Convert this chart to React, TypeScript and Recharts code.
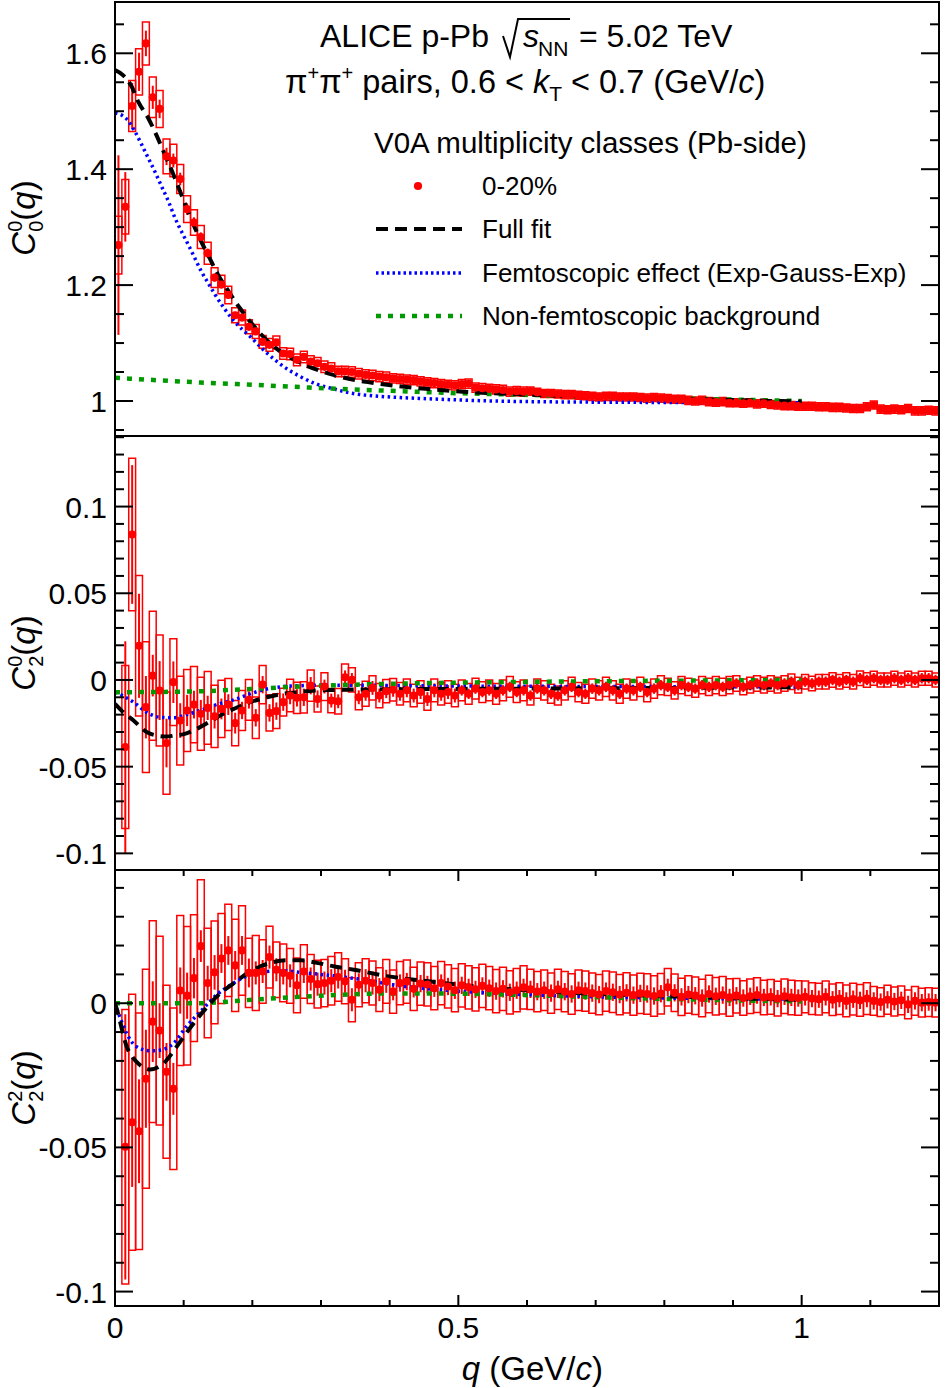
import React from 'react';
import { ComposedChart, ErrorBar, Line, ReferenceArea, Scatter, XAxis, YAxis } from 'recharts';

const FONT = '"Liberation Sans", Arial, Helvetica, sans-serif';
const RED = '#ff0000';
const BLUE = '#0000ff';
const GREEN = '#009a00';

const PLOT_LEFT = 115;
const PLOT_W = 824;
const RIGHT_GAP = 11;
const HALF_BIN = 0.005;

// bin centres, q in GeV/c
const Q_BINS = [
  0.005, 0.015, 0.025, 0.035, 0.045, 0.055, 0.065, 0.075, 0.085, 0.095,
  0.105, 0.115, 0.125, 0.135, 0.145, 0.155, 0.165, 0.175, 0.185, 0.195,
  0.205, 0.215, 0.225, 0.235, 0.245, 0.255, 0.265, 0.275, 0.285, 0.295,
  0.305, 0.315, 0.325, 0.335, 0.345, 0.355, 0.365, 0.375, 0.385, 0.395,
  0.405, 0.415, 0.425, 0.435, 0.445, 0.455, 0.465, 0.475, 0.485, 0.495,
  0.505, 0.515, 0.525, 0.535, 0.545, 0.555, 0.565, 0.575, 0.585, 0.595,
  0.605, 0.615, 0.625, 0.635, 0.645, 0.655, 0.665, 0.675, 0.685, 0.695,
  0.705, 0.715, 0.725, 0.735, 0.745, 0.755, 0.765, 0.775, 0.785, 0.795,
  0.805, 0.815, 0.825, 0.835, 0.845, 0.855, 0.865, 0.875, 0.885, 0.895,
  0.905, 0.915, 0.925, 0.935, 0.945, 0.955, 0.965, 0.975, 0.985, 0.995,
  1.005, 1.015, 1.025, 1.035, 1.045, 1.055, 1.065, 1.075, 1.085, 1.095,
  1.105, 1.115, 1.125, 1.135, 1.145, 1.155, 1.165, 1.175, 1.185, 1.195,
];

// C^0_0(q)
const C00_VAL = [
  1.269, 1.335, 1.509, 1.568, 1.617, 1.524, 1.504, 1.422, 1.415, 1.383,
  1.331, 1.308, 1.283, 1.255, 1.213, 1.201, 1.183, 1.148, 1.144, 1.128,
  1.120, 1.102, 1.097, 1.101, 1.082, 1.081, 1.071, 1.076, 1.068, 1.065,
  1.059, 1.056, 1.051, 1.051, 1.050, 1.047, 1.045, 1.044, 1.042, 1.041,
  1.039, 1.038, 1.037, 1.036, 1.034, 1.032, 1.031, 1.029, 1.028, 1.027,
  1.029, 1.030, 1.023, 1.022, 1.021, 1.020, 1.019, 1.016, 1.017, 1.016,
  1.017, 1.015, 1.013, 1.013, 1.012, 1.011, 1.011, 1.010, 1.009, 1.008,
  1.007, 1.008, 1.008, 1.007, 1.007, 1.007, 1.006, 1.005, 1.006, 1.005,
  1.004, 1.003, 1.003, 1.001, 1.000, 1.001, 0.999, 0.998, 0.999, 0.997,
  0.997, 0.996, 0.997, 0.995, 0.996, 0.994, 0.993, 0.992, 0.992, 0.991,
  0.991, 0.991, 0.990, 0.990, 0.989, 0.989, 0.988, 0.987, 0.987, 0.990,
  0.993, 0.986, 0.985, 0.986, 0.985, 0.987, 0.983, 0.983, 0.984, 0.983,
];
const C00_STAT = [
  0.155, 0.06, 0.04, 0.033, 0.022, 0.02, 0.016, 0.015, 0.012, 0.011,
  0.01, 0.009, 0.008, 0.008, 0.007, 0.007, 0.006, 0.006, 0.005, 0.005,
  0.004, 0.004, 0.004, 0.004, 0.004, 0.004, 0.004, 0.004, 0.004, 0.004,
  0.004, 0.004, 0.004, 0.004, 0.004, 0.004, 0.004, 0.004, 0.004, 0.004,
  0.004, 0.004, 0.004, 0.004, 0.004, 0.004, 0.004, 0.004, 0.004, 0.004,
  0.004, 0.004, 0.004, 0.004, 0.004, 0.004, 0.004, 0.004, 0.004, 0.004,
  0.003, 0.003, 0.003, 0.003, 0.003, 0.003, 0.003, 0.003, 0.003, 0.003,
  0.003, 0.003, 0.003, 0.003, 0.003, 0.003, 0.003, 0.003, 0.003, 0.003,
  0.003, 0.003, 0.003, 0.003, 0.003, 0.003, 0.003, 0.003, 0.003, 0.003,
  0.003, 0.003, 0.003, 0.003, 0.003, 0.003, 0.003, 0.003, 0.003, 0.003,
  0.003, 0.003, 0.003, 0.003, 0.003, 0.003, 0.003, 0.003, 0.003, 0.003,
  0.003, 0.003, 0.003, 0.003, 0.003, 0.003, 0.003, 0.003, 0.003, 0.003,
];
const C00_SYS = [
  0.05, 0.047, 0.044, 0.04, 0.037, 0.035, 0.032, 0.03, 0.028, 0.025,
  0.023, 0.022, 0.02, 0.019, 0.017, 0.016, 0.015, 0.013, 0.013, 0.012,
  0.012, 0.011, 0.011, 0.011, 0.01, 0.01, 0.01, 0.01, 0.01, 0.01,
  0.01, 0.01, 0.009, 0.009, 0.009, 0.009, 0.009, 0.009, 0.009, 0.009,
  0.008, 0.008, 0.008, 0.008, 0.008, 0.008, 0.008, 0.008, 0.008, 0.008,
  0.008, 0.008, 0.008, 0.008, 0.008, 0.008, 0.008, 0.008, 0.008, 0.008,
  0.007, 0.007, 0.007, 0.007, 0.007, 0.007, 0.007, 0.007, 0.007, 0.007,
  0.007, 0.007, 0.007, 0.007, 0.007, 0.007, 0.007, 0.007, 0.007, 0.007,
  0.007, 0.007, 0.007, 0.007, 0.007, 0.007, 0.007, 0.007, 0.007, 0.007,
  0.007, 0.007, 0.007, 0.007, 0.007, 0.007, 0.007, 0.007, 0.007, 0.007,
  0.007, 0.007, 0.007, 0.007, 0.007, 0.007, 0.007, 0.007, 0.007, 0.007,
  0.007, 0.007, 0.007, 0.007, 0.007, 0.007, 0.007, 0.007, 0.007, 0.007,
];

// C^0_2(q)
const C02_VAL = [
  null, -0.0387, 0.0839, 0.0197, -0.0157, 0.0025, -0.0061, -0.0364, -0.0013, -0.0234,
  -0.0176, -0.0142, -0.0195, -0.0161, -0.021, -0.0167, -0.0142, -0.0249, -0.0176, -0.0115,
  -0.0218, -0.0027, -0.019, -0.018, -0.0128, -0.009, -0.0103, -0.01, -0.0033, -0.011,
  -0.0038, -0.0119, -0.0123, 0.0015, 0.0, -0.01, -0.008, -0.0046, -0.009, -0.0065,
  -0.0057, -0.008, -0.006, -0.009, -0.007, -0.011, -0.006, -0.008, -0.007, -0.009,
  -0.006, -0.008, -0.005, -0.007, -0.006, -0.008, -0.006, -0.004, -0.007, -0.006,
  -0.009, -0.005, -0.006, -0.008, -0.009, -0.006, -0.004, -0.007, -0.008, -0.005,
  -0.006, -0.004, -0.006, -0.008, -0.005, -0.006, -0.004, -0.007, -0.005, -0.003,
  -0.004, -0.006, -0.003, -0.004, -0.005, -0.003, -0.004, -0.003, -0.004, -0.003,
  -0.002, -0.004, -0.003, -0.002, -0.003, -0.002, -0.003, -0.002, -0.001, -0.003,
  -0.001, -0.002, -0.001, -0.001, 0.0, -0.001, 0.0, -0.001, 0.001, 0.0,
  0.001, 0.0, 0.0, 0.001, 0.0, 0.001, 0.0, 0.001, 0.001, 0.0,
];
const C02_STAT = [
  null, 0.061, 0.04, 0.03, 0.018, 0.012, 0.017, 0.014, 0.012, 0.01,
  0.009, 0.008, 0.008, 0.007, 0.007, 0.006, 0.006, 0.006, 0.005, 0.005,
  0.005, 0.005, 0.005, 0.005, 0.005, 0.005, 0.005, 0.005, 0.005, 0.005,
  0.004, 0.004, 0.004, 0.004, 0.004, 0.004, 0.004, 0.004, 0.004, 0.004,
  0.004, 0.004, 0.004, 0.004, 0.004, 0.004, 0.004, 0.004, 0.004, 0.004,
  0.003, 0.003, 0.003, 0.003, 0.003, 0.003, 0.003, 0.003, 0.003, 0.003,
  0.003, 0.003, 0.003, 0.003, 0.003, 0.003, 0.003, 0.003, 0.003, 0.003,
  0.003, 0.003, 0.003, 0.003, 0.003, 0.003, 0.003, 0.003, 0.003, 0.003,
  0.003, 0.003, 0.003, 0.003, 0.003, 0.003, 0.003, 0.003, 0.003, 0.003,
  0.003, 0.003, 0.003, 0.003, 0.003, 0.003, 0.003, 0.003, 0.003, 0.003,
  0.003, 0.003, 0.003, 0.003, 0.003, 0.003, 0.003, 0.003, 0.003, 0.003,
  0.003, 0.003, 0.003, 0.003, 0.003, 0.003, 0.003, 0.003, 0.003, 0.003,
];
const C02_SYS = [
  null, 0.047, 0.044, 0.0405, 0.0377, 0.0372, 0.032, 0.0295, 0.025, 0.0256,
  0.0237, 0.022, 0.021, 0.021, 0.018, 0.0165, 0.015, 0.013, 0.0115, 0.0117,
  0.012, 0.011, 0.0104, 0.01, 0.008, 0.0094, 0.009, 0.009, 0.009, 0.0075,
  0.008, 0.007, 0.0074, 0.0077, 0.007, 0.0072, 0.0072, 0.007, 0.007, 0.0067,
  0.0065, 0.0065, 0.0065, 0.0065, 0.0065, 0.0065, 0.0065, 0.0065, 0.0065, 0.0065,
  0.006, 0.006, 0.006, 0.006, 0.006, 0.006, 0.006, 0.006, 0.006, 0.006,
  0.0055, 0.0055, 0.0055, 0.0055, 0.0055, 0.0055, 0.0055, 0.0055, 0.0055, 0.0055,
  0.0055, 0.0055, 0.0055, 0.0055, 0.0055, 0.0055, 0.0055, 0.0055, 0.0055, 0.0055,
  0.005, 0.005, 0.005, 0.005, 0.005, 0.005, 0.005, 0.005, 0.005, 0.005,
  0.0045, 0.0045, 0.0045, 0.0045, 0.0045, 0.0045, 0.0045, 0.0045, 0.0045, 0.0045,
  0.0042, 0.0042, 0.0042, 0.0042, 0.0042, 0.0042, 0.0042, 0.0042, 0.0042, 0.0042,
  0.004, 0.004, 0.004, 0.004, 0.004, 0.004, 0.004, 0.004, 0.004, 0.004,
];

// C^2_2(q)
const C22_VAL = [
  null, -0.0498, -0.0413, -0.0444, -0.0262, -0.0064, -0.0095, -0.0238, -0.0297, 0.0044,
  0.0026, 0.0087, 0.0198, 0.007, 0.0107, 0.0155, 0.0183, 0.0131, 0.0183, 0.0105,
  0.0105, 0.011, 0.016, 0.0116, 0.0105, 0.0095, 0.0062, 0.011, 0.0084, 0.0066,
  0.007, 0.0078, 0.0091, 0.0076, 0.0012, 0.0064, 0.0078, 0.007, 0.0047, 0.0076,
  0.004, 0.007, 0.0075, 0.005, 0.0068, 0.0065, 0.0052, 0.007, 0.0058, 0.0045,
  0.0062, 0.0055, 0.0048, 0.006, 0.0052, 0.0042, 0.005, 0.0038, 0.0045, 0.0055,
  0.0048, 0.004, 0.0045, 0.0035, 0.0048, 0.004, 0.0032, 0.0045, 0.0042, 0.0035,
  0.003, 0.0042, 0.0038, 0.003, 0.0036, 0.0028, 0.0034, 0.0032, 0.0025, 0.0033,
  0.0055, 0.0036, 0.0022, 0.003, 0.0026, 0.0018, 0.0032, 0.0024, 0.0028, 0.002,
  0.0026, 0.0018, 0.0024, 0.0028, 0.002, 0.0022, 0.0016, 0.0024, 0.002, 0.0018,
  0.0022, 0.0016, 0.0014, 0.0022, 0.0012, 0.0016, 0.0008, 0.0014, 0.001, 0.0016,
  0.0008, 0.0004, 0.0012, 0.0006, 0.001, -0.0004, 0.0008, 0.0002, 0.0004, 0.0002,
];
const C22_STAT = [
  null, 0.046, 0.0224, 0.018, 0.017, 0.014, 0.0095, 0.01, 0.009, 0.008,
  0.008, 0.007, 0.0055, 0.006, 0.006, 0.005, 0.005, 0.005, 0.005, 0.005,
  0.004, 0.004, 0.004, 0.004, 0.004, 0.004, 0.004, 0.004, 0.004, 0.004,
  0.004, 0.004, 0.004, 0.004, 0.004, 0.004, 0.004, 0.004, 0.004, 0.004,
  0.003, 0.003, 0.003, 0.003, 0.003, 0.003, 0.003, 0.003, 0.003, 0.003,
  0.003, 0.003, 0.003, 0.003, 0.003, 0.003, 0.003, 0.003, 0.003, 0.003,
  0.003, 0.003, 0.003, 0.003, 0.003, 0.003, 0.003, 0.003, 0.003, 0.003,
  0.003, 0.003, 0.003, 0.003, 0.003, 0.003, 0.003, 0.003, 0.003, 0.003,
  0.003, 0.003, 0.003, 0.003, 0.003, 0.003, 0.003, 0.003, 0.003, 0.003,
  0.003, 0.003, 0.003, 0.003, 0.003, 0.003, 0.003, 0.003, 0.003, 0.003,
  0.003, 0.003, 0.003, 0.003, 0.003, 0.003, 0.003, 0.003, 0.003, 0.003,
  0.003, 0.003, 0.003, 0.003, 0.003, 0.003, 0.003, 0.003, 0.003, 0.003,
];
const C22_SYS = [
  null, 0.0476, 0.0444, 0.041, 0.038, 0.035, 0.0327, 0.03, 0.028, 0.026,
  0.024, 0.022, 0.023, 0.019, 0.0178, 0.0156, 0.016, 0.016, 0.0155, 0.012,
  0.013, 0.011, 0.0107, 0.0096, 0.01, 0.0095, 0.0095, 0.0093, 0.0085, 0.0083,
  0.0082, 0.0084, 0.0084, 0.0078, 0.0076, 0.0076, 0.0076, 0.0076, 0.0076, 0.0076,
  0.0075, 0.0075, 0.0075, 0.0075, 0.0075, 0.0075, 0.0075, 0.0075, 0.0075, 0.0075,
  0.0075, 0.0075, 0.0075, 0.0075, 0.0075, 0.0075, 0.0075, 0.0075, 0.0075, 0.0075,
  0.007, 0.007, 0.007, 0.007, 0.007, 0.007, 0.007, 0.007, 0.007, 0.007,
  0.007, 0.007, 0.007, 0.007, 0.007, 0.007, 0.007, 0.007, 0.007, 0.007,
  0.0065, 0.0065, 0.0065, 0.0065, 0.0065, 0.0065, 0.0065, 0.0065, 0.0065, 0.0065,
  0.006, 0.006, 0.006, 0.006, 0.006, 0.006, 0.006, 0.006, 0.006, 0.006,
  0.0055, 0.0055, 0.0055, 0.0055, 0.0055, 0.0055, 0.0055, 0.0055, 0.0055, 0.0055,
  0.005, 0.005, 0.005, 0.005, 0.005, 0.005, 0.005, 0.005, 0.005, 0.005,
];

// fit curves, [q, value]
const C00_FULL_FIT = [
  [0, 1.571], [0.012, 1.562], [0.024, 1.543], [0.034, 1.516], [0.0485, 1.488], [0.061, 1.457],
  [0.073, 1.424], [0.085, 1.391], [0.095, 1.361], [0.104, 1.334], [0.114, 1.305], [0.124, 1.279],
  [0.138, 1.246], [0.15, 1.218], [0.165, 1.19], [0.182, 1.16], [0.201, 1.131], [0.221, 1.105],
  [0.245, 1.082], [0.27, 1.066], [0.294, 1.054], [0.318, 1.045], [0.342, 1.038], [0.366, 1.033],
  [0.396, 1.028], [0.425, 1.024], [0.463, 1.02], [0.507, 1.016], [0.56, 1.013], [0.65, 1.009],
  [0.75, 1.006], [0.85, 1.003], [1.0, 0.999],
];
const C00_FEMTO_FIT = [
  [0, 1.497], [0.01, 1.493], [0.019, 1.484], [0.029, 1.465], [0.039, 1.442], [0.0485, 1.419],
  [0.058, 1.396], [0.068, 1.37], [0.078, 1.344], [0.087, 1.317], [0.097, 1.292], [0.107, 1.269],
  [0.1165, 1.246], [0.126, 1.223], [0.136, 1.203], [0.146, 1.183], [0.159, 1.16], [0.172, 1.14],
  [0.185, 1.124], [0.197, 1.111], [0.221, 1.083], [0.245, 1.06], [0.27, 1.042], [0.294, 1.029],
  [0.318, 1.021], [0.342, 1.014], [0.366, 1.01], [0.415, 1.006], [0.463, 1.0035], [0.55, 1.0],
  [0.7, 0.998], [1.0, 0.997],
];
const C00_BKG_FIT = [
  [0, 1.04], [0.124, 1.032], [0.2, 1.028], [0.27, 1.024], [0.342, 1.02], [0.415, 1.017],
  [0.483, 1.014], [0.55, 1.012], [0.65, 1.009], [0.75, 1.006], [0.875, 1.003], [1.0, 1.0],
];
const C02_FULL_FIT = [
  [0, -0.0138], [0.013, -0.019], [0.027, -0.0234], [0.046, -0.03], [0.06, -0.032], [0.075, -0.0326],
  [0.087, -0.032], [0.099, -0.0314], [0.112, -0.0295], [0.124, -0.0272], [0.136, -0.0245],
  [0.148, -0.0218], [0.16, -0.019], [0.173, -0.0167], [0.185, -0.0146], [0.197, -0.0128],
  [0.221, -0.01], [0.245, -0.008], [0.27, -0.0068], [0.31, -0.0058], [0.4, -0.0054],
  [0.6, -0.005], [0.8, -0.0046], [1.0, -0.0042],
];
const C02_FEMTO_FIT = [
  [0, -0.0071], [0.013, -0.0095], [0.027, -0.0128], [0.046, -0.0186], [0.065, -0.0215],
  [0.085, -0.0218], [0.104, -0.02], [0.124, -0.0176], [0.148, -0.0142], [0.173, -0.0115],
  [0.197, -0.008], [0.221, -0.0052], [0.245, -0.0038], [0.27, -0.0033], [0.32, -0.003],
  [0.5, -0.0035], [0.75, -0.0038], [1.0, -0.004],
];
const C02_BKG_FIT = [
  [0, -0.0071], [0.124, -0.0065], [0.197, -0.0052], [0.27, -0.0038], [0.4, -0.0022],
  [0.55, -0.0013], [0.75, -0.0006], [1.0, 0],
];
const C22_FULL_FIT = [
  [0, 0], [0.005, -0.004], [0.01, -0.009], [0.017, -0.015], [0.025, -0.0185], [0.035, -0.0212],
  [0.051, -0.023], [0.07, -0.021], [0.09, -0.015], [0.109, -0.0087], [0.128, -0.003],
  [0.148, 0.0023], [0.173, 0.007], [0.197, 0.011], [0.221, 0.0136], [0.25, 0.0149],
  [0.27, 0.0149], [0.294, 0.014], [0.318, 0.0128], [0.348, 0.0116], [0.396, 0.0094],
  [0.46, 0.0075], [0.556, 0.0052], [0.66, 0.0037], [0.817, 0.0023], [1.0, 0.0012],
];
const C22_FEMTO_FIT = [
  [0, 0], [0.007, -0.0047], [0.017, -0.0105], [0.031, -0.015], [0.051, -0.0165], [0.065, -0.0163],
  [0.085, -0.014], [0.104, -0.0081], [0.124, -0.003], [0.148, 0.0029], [0.173, 0.007],
  [0.197, 0.0099], [0.221, 0.011], [0.245, 0.0113], [0.27, 0.0107], [0.318, 0.0095],
  [0.366, 0.008], [0.41, 0.0062], [0.5, 0.0042], [0.66, 0.0025], [0.8, 0.0018], [1.0, 0.0014],
];
const C22_BKG_FIT = [
  [0, 0], [0.12, 0], [0.2, 0.0012], [0.3, 0.0026], [0.4, 0.0034], [0.5, 0.0033],
  [0.6, 0.0028], [0.76, 0.0017], [0.9, 0.001], [1.0, 0.0006],
];

// axis ticks
const X_TICKS = [0, 0.1, 0.2, 0.3, 0.4, 0.5, 0.6, 0.7, 0.8, 0.9, 1, 1.1, 1.2];
const X_MAJOR = [0, 0.5, 1];
const X_LABELS = ['0', '0.5', '1'];

const P1_Y_TICKS = [0.95, 1, 1.05, 1.1, 1.15, 1.2, 1.25, 1.3, 1.35, 1.4, 1.45, 1.5, 1.55, 1.6, 1.65];
const P1_Y_MAJOR = [1, 1.2, 1.4, 1.6];
const P1_Y_LABELS = ['1', '1.2', '1.4', '1.6'];

const P2_Y_TICKS = [
  -0.1, -0.09, -0.08, -0.07, -0.06, -0.05, -0.04, -0.03, -0.02, -0.01, 0,
  0.01, 0.02, 0.03, 0.04, 0.05, 0.06, 0.07, 0.08, 0.09, 0.1, 0.11, 0.12, 0.13, 0.14,
];
const P2_Y_MAJOR = [-0.1, -0.05, 0, 0.05, 0.1];
const P2_Y_LABELS = ['-0.1', '-0.05', '0', '0.05', '0.1'];

const P3_Y_TICKS = [-0.1, -0.09, -0.08, -0.07, -0.06, -0.05, -0.04, -0.03, -0.02, -0.01, 0, 0.01, 0.02, 0.03, 0.04];
const P3_Y_MAJOR = [-0.1, -0.05, 0];
const P3_Y_LABELS = ['-0.1', '-0.05', '0'];

type Row = { q: number; v: number; stat: number; lo: number; hi: number };

function buildRows(vals: (number | null)[], stat: (number | null)[], sys: (number | null)[]): Row[] {
  const rows: Row[] = [];
  Q_BINS.forEach((q, i) => {
    const v = vals[i];
    if (v == null) return;
    const s = sys[i] ?? 0;
    rows.push({ q, v, stat: stat[i] ?? 0, lo: v - s, hi: v + s });
  });
  return rows;
}

const toFit = (pts: number[][]) => pts.map(([q, v]) => ({ q, v }));

const majorIndex = (majors: number[], v: number) => majors.findIndex((m) => Math.abs(m - v) < 1e-7);

function XTick(props: any) {
  const { x = 0, y = 0, payload, plotH, showLabels } = props;
  const idx = majorIndex(X_MAJOR, payload?.value);
  const len = idx >= 0 ? 11 : 6;
  return (
    <g>
      <line x1={x} x2={x} y1={y} y2={y - len} stroke="#000" strokeWidth={2} />
      <line x1={x} x2={x} y1={y - plotH} y2={y - plotH + len} stroke="#000" strokeWidth={2} />
      {showLabels && idx >= 0 && (
        <text x={x} y={y + 32} textAnchor="middle" fontSize={30} fontFamily={FONT} fill="#000">
          {X_LABELS[idx]}
        </text>
      )}
    </g>
  );
}

function YTick(props: any) {
  const { x = 0, y = 0, payload, majors, labels } = props;
  const idx = majorIndex(majors, payload?.value);
  const len = idx >= 0 ? 18 : 9;
  return (
    <g>
      <line x1={x} x2={x + len} y1={y} y2={y} stroke="#000" strokeWidth={2} />
      <line x1={x + PLOT_W} x2={x + PLOT_W - len} y1={y} y2={y} stroke="#000" strokeWidth={2} />
      {idx >= 0 && (
        <text x={x - 8} y={y + 11} textAnchor="end" fontSize={30} fontFamily={FONT} fill="#000">
          {labels[idx]}
        </text>
      )}
    </g>
  );
}

const dot = (p: any) => <circle cx={p.cx} cy={p.cy} r={4.1} fill={RED} />;

interface PanelProps {
  top: number;
  plotTop: number;
  plotH: number;
  xAxisH: number;
  rows: Row[];
  domain: [number, number];
  yTicks: number[];
  yMajor: number[];
  yLabels: string[];
  full: number[][];
  femto: number[][];
  bkg: number[][];
  bottom: boolean;
}

function Panel({ top, plotTop, plotH, xAxisH, rows, domain, yTicks, yMajor, yLabels, full, femto, bkg, bottom }: PanelProps) {
  const height = plotTop + plotH + xAxisH;
  return (
    <div style={{ position: 'absolute', left: 0, top, width: 950, height }}>
      <ComposedChart
        width={950}
        height={height}
        data={rows}
        margin={{ top: plotTop, right: RIGHT_GAP, bottom: 0, left: 0 }}
      >
        <XAxis
          type="number"
          dataKey="q"
          domain={[0, 1.2]}
          ticks={X_TICKS}
          interval={0}
          allowDataOverflow
          height={xAxisH}
          axisLine={false}
          tickLine={false}
          tickSize={0}
          tickMargin={0}
          tick={<XTick plotH={plotH} showLabels={bottom} />}
        />
        <YAxis
          type="number"
          domain={domain}
          ticks={yTicks}
          interval={0}
          allowDataOverflow
          width={PLOT_LEFT}
          axisLine={false}
          tickLine={false}
          tickSize={0}
          tickMargin={0}
          tick={<YTick majors={yMajor} labels={yLabels} />}
        />
        {rows.map((r) => (
          <ReferenceArea
            key={r.q}
            x1={r.q - HALF_BIN}
            x2={r.q + HALF_BIN}
            y1={r.lo}
            y2={r.hi}
            ifOverflow="hidden"
            fill="none"
            stroke={RED}
            strokeWidth={1.5}
          />
        ))}
        <Scatter dataKey="v" fill={RED} shape={dot} isAnimationActive={false}>
          <ErrorBar dataKey="stat" direction="y" width={0} stroke={RED} strokeWidth={2} />
        </Scatter>
        <Line data={toFit(femto)} dataKey="v" type="monotone" stroke={BLUE} strokeWidth={3.5}
          strokeDasharray="2.5 3.5" dot={false} isAnimationActive={false} />
        <Line data={toFit(bkg)} dataKey="v" type="monotone" stroke={GREEN} strokeWidth={4.5}
          strokeDasharray="5 7" dot={false} isAnimationActive={false} />
        <Line data={toFit(full)} dataKey="v" type="monotone" stroke="#000" strokeWidth={4}
          strokeDasharray="12 7" dot={false} isAnimationActive={false} />
      </ComposedChart>
    </div>
  );
}

function YTitle({ cy, sup, sub }: { cy: number; sup: string; sub: string }) {
  return (
    <text transform={`translate(35, ${cy}) rotate(-90)`} textAnchor="middle" fontSize={33} fontFamily={FONT}>
      <tspan fontStyle="italic">C</tspan>
      <tspan fontSize={20} dy={-13}>{sup}</tspan>
      <tspan fontSize={20} dx={-11.1} dy={21}>{sub}</tspan>
      <tspan dy={-8}>(</tspan>
      <tspan fontStyle="italic">q</tspan>
      <tspan>)</tspan>
    </text>
  );
}

export default function App() {
  const rows00 = buildRows(C00_VAL, C00_STAT, C00_SYS);
  const rows02 = buildRows(C02_VAL, C02_STAT, C02_SYS);
  const rows22 = buildRows(C22_VAL, C22_STAT, C22_SYS);

  return (
    <div style={{ position: 'absolute', left: 0, top: 0, width: 950, height: 1388, background: '#fff', fontFamily: FONT }}>
      <Panel top={0} plotTop={2} plotH={434} xAxisH={0} rows={rows00} domain={[0.9396, 1.6885]}
        yTicks={P1_Y_TICKS} yMajor={P1_Y_MAJOR} yLabels={P1_Y_LABELS}
        full={C00_FULL_FIT} femto={C00_FEMTO_FIT} bkg={C00_BKG_FIT} bottom={false} />
      <Panel top={436} plotTop={0} plotH={434} xAxisH={0} rows={rows02} domain={[-0.1096, 0.1407]}
        yTicks={P2_Y_TICKS} yMajor={P2_Y_MAJOR} yLabels={P2_Y_LABELS}
        full={C02_FULL_FIT} femto={C02_FEMTO_FIT} bkg={C02_BKG_FIT} bottom={false} />
      <Panel top={870} plotTop={0} plotH={436} xAxisH={82} rows={rows22} domain={[-0.105, 0.0462]}
        yTicks={P3_Y_TICKS} yMajor={P3_Y_MAJOR} yLabels={P3_Y_LABELS}
        full={C22_FULL_FIT} femto={C22_FEMTO_FIT} bkg={C22_BKG_FIT} bottom />

      <svg width={950} height={1388} style={{ position: 'absolute', left: 0, top: 0, pointerEvents: 'none' }}>
        <g fill="none" stroke="#000" strokeWidth={2}>
          <rect x={PLOT_LEFT} y={2} width={PLOT_W} height={434} />
          <rect x={PLOT_LEFT} y={436} width={PLOT_W} height={434} />
          <rect x={PLOT_LEFT} y={870} width={PLOT_W} height={436} />
        </g>

        <g fontFamily={FONT} fill="#000" style={{ whiteSpace: 'pre' }}>
          <text x={320} y={47} fontSize={32}>ALICE p-Pb</text>
          <path d="M503,36 L510,57 L518,19 L570,19" fill="none" stroke="#000" strokeWidth={2} />
          <text x={523} y={47} fontSize={32} fontStyle="italic">s</text>
          <text x={538} y={56} fontSize={21}>NN</text>
          <text x={579} y={47} fontSize={32}>= 5.02 TeV</text>

          <text x={285} y={93} fontSize={32.5}>
            <tspan>π</tspan>
            <tspan fontSize={20} dy={-13}>+</tspan>
            <tspan dy={13}>π</tspan>
            <tspan fontSize={20} dy={-13}>+</tspan>
            <tspan dy={13}>{' pairs, 0.6 < '}</tspan>
            <tspan fontStyle="italic">k</tspan>
            <tspan fontSize={21} dy={8}>T</tspan>
            <tspan dy={-8}>{' < 0.7 (GeV/'}</tspan>
            <tspan fontStyle="italic">c</tspan>
            <tspan>)</tspan>
          </text>

          <text x={374} y={153} fontSize={29.5}>V0A multiplicity classes (Pb-side)</text>
          <circle cx={418} cy={186} r={4.1} fill={RED} />
          <text x={482} y={195} fontSize={26}>0-20%</text>
          <line x1={376} x2={462} y1={229} y2={229} stroke="#000" strokeWidth={4} strokeDasharray="12 7" />
          <text x={482} y={238} fontSize={26}>Full fit</text>
          <line x1={376} x2={462} y1={273} y2={273} stroke={BLUE} strokeWidth={3.5} strokeDasharray="2.5 3" />
          <text x={482} y={282} fontSize={26}>Femtoscopic effect (Exp-Gauss-Exp)</text>
          <line x1={376} x2={462} y1={316} y2={316} stroke={GREEN} strokeWidth={4.5} strokeDasharray="5 7" />
          <text x={482} y={325} fontSize={26}>Non-femtoscopic background</text>

          <YTitle cy={218} sup="0" sub="0" />
          <YTitle cy={653} sup="0" sub="2" />
          <YTitle cy={1088} sup="2" sub="2" />

          <text x={603} y={1380} fontSize={33} textAnchor="end">
            <tspan fontStyle="italic">q</tspan>
            <tspan>{' (GeV/'}</tspan>
            <tspan fontStyle="italic">c</tspan>
            <tspan>)</tspan>
          </text>
        </g>
      </svg>
    </div>
  );
}
